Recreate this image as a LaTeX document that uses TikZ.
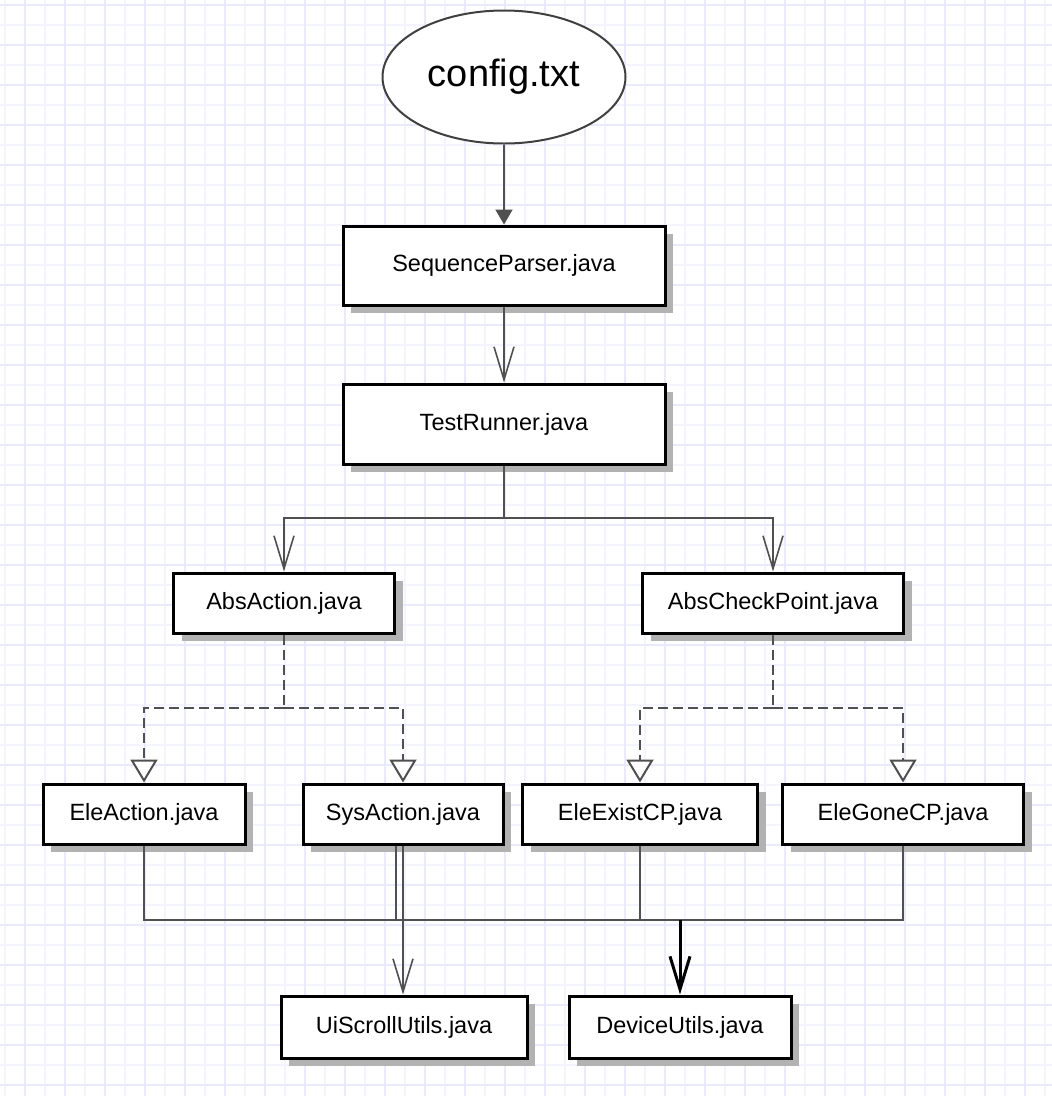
\documentclass[tikz,border=0pt]{standalone}
\usepackage{fontspec}
\setmainfont{Liberation Sans}
\usetikzlibrary{arrows.meta,shapes.geometric,shadows}
\definecolor{gridA}{RGB}{233,233,255}
\definecolor{gridB}{RGB}{244,244,255}
\definecolor{conncol}{RGB}{80,80,80}
\begin{document}
\begin{tikzpicture}[x=1pt,y=-1pt,
  box/.style={draw=black, line width=3pt, fill=white, rectangle, inner sep=0pt,
    font=\fontsize{23.5}{28}\selectfont,
    drop shadow={shadow xshift=8pt,shadow yshift=-8pt,fill=black!30,opacity=1}},
  conn/.style={draw=conncol, line width=2pt},
  thinconn/.style={draw=conncol, line width=1.6pt},
  dashconn/.style={draw=conncol, line width=2.5pt, dash pattern=on 10pt off 5pt},
  vtip/.style={-{Straight Barb[width=20pt,length=33pt,line width=1.6pt]}},
  ttip/.style={-{Triangle[width=27pt,length=23pt,fill=white,line width=2pt]}},
]
\fill[white] (0,0) rectangle (1052,1096);
\useasboundingbox (0,0) rectangle (1052,1096);
% grid
\foreach \x in {5,45,...,1045} \draw[gridB, line width=1.5pt] (\x,0) -- (\x,1096);
\foreach \y in {25,65,...,1065} \draw[gridB, line width=1.5pt] (0,\y) -- (1052,\y);
\foreach \x in {25,65,...,1025} \draw[gridA, line width=1.5pt] (\x,0) -- (\x,1096);
\foreach \y in {5,45,...,1085} \draw[gridA, line width=1.5pt] (0,\y) -- (1052,\y);

% nodes
\node[ellipse, draw=black!75, line width=2pt, fill=white, minimum width=243pt,
  minimum height=133pt, inner sep=0pt, font=\fontsize{38}{44}\selectfont] (cfg) at (504,77) {config.txt};
\node[box, minimum width=322pt, minimum height=79pt] (seq) at (504,265.5) {SequenceParser.java};
\node[box, minimum width=322pt, minimum height=80pt] (tr) at (504,424) {TestRunner.java};
\node[box, minimum width=221pt, minimum height=60pt] (aa) at (284,603) {AbsAction.java};
\node[box, minimum width=261pt, minimum height=60pt] (acp) at (773,603) {AbsCheckPoint.java};
\node[box, minimum width=202pt, minimum height=60pt] (ea) at (144,814) {EleAction.java};
\node[box, minimum width=200pt, minimum height=60pt] (sa) at (403,814) {SysAction.java};
\node[box, minimum width=235pt, minimum height=60pt] (eec) at (640,814) {EleExistCP.java};
\node[box, minimum width=241pt, minimum height=60pt] (egc) at (903,814) {EleGoneCP.java};
\node[box, minimum width=246pt, minimum height=62pt] (usu) at (404,1027) {UiScrollUtils.java};
\node[box, minimum width=222pt, minimum height=62pt] (du) at (680,1027) {DeviceUtils.java};

% connectors
\draw[conn, -{Triangle[width=17pt,length=15pt]}] (cfg.south) -- (seq.north);
\draw[thinconn, vtip] (seq.south) -- (tr.north);

\coordinate (trbus) at (504,518);
\draw[conn] (tr.south) -- (trbus);
\draw[conn, vtip] (trbus) -| (aa.north);
\draw[conn, vtip] (trbus) -| (acp.north);

\coordinate (aabus) at (284,708);
\coordinate (acpbus) at (773,708);
\draw[dashconn] (aa.south) -- (aabus);
\draw[dashconn, ttip] (aabus) -| (ea.north);
\draw[dashconn, ttip] (aabus) -| (sa.north);
\draw[dashconn] (acp.south) -- (acpbus);
\draw[dashconn, ttip] (acpbus) -| (eec.north);
\draw[dashconn, ttip] (acpbus) -| (egc.north);

\coordinate (bus) at (680,920);
\coordinate (sajoin) at (396,920);
\draw[thinconn] (ea.south) |- (bus);
\draw[thinconn] (sa.south -| sajoin) -- (sajoin);
\draw[thinconn] (eec.south) -- (eec.south |- bus);
\draw[thinconn] (egc.south) |- (bus);
\draw[draw=black, line width=3pt, -{Straight Barb[width=20pt,length=33pt,line width=3pt]}] (bus) -- (du.north);
\draw[thinconn, vtip] (sa.south) -- (sa.south |- usu.north);
\end{tikzpicture}
\end{document}
